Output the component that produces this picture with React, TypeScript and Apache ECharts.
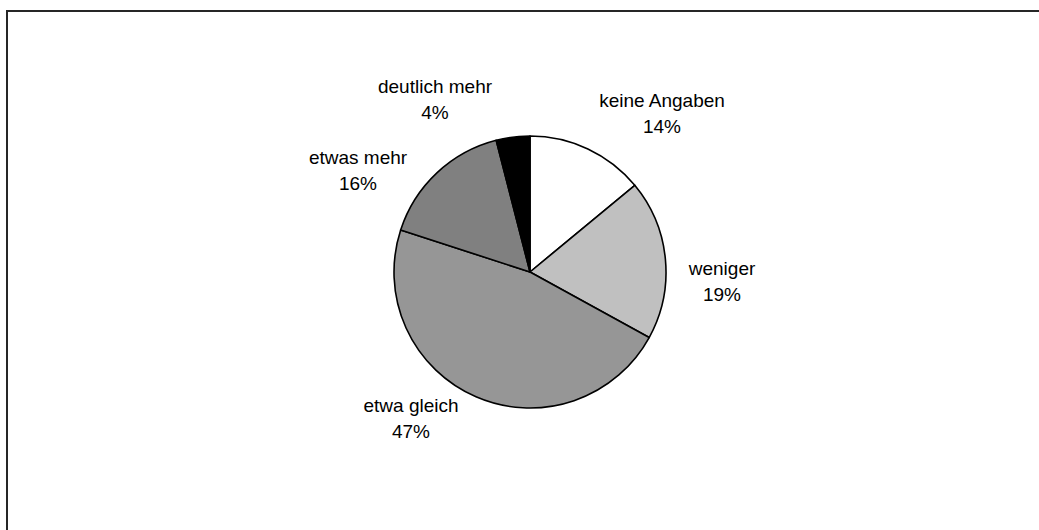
import React, { useEffect, useRef } from "react";
import * as echarts from "echarts";

const categories = ["keine Angaben", "weniger", "etwa gleich", "etwas mehr", "deutlich mehr"];
const values = [14, 19, 47, 16, 4];
const colors = ["#ffffff", "#c0c0c0", "#969696", "#808080", "#000000"];
// label block centres (layout only)
const labelPos: [number, number][] = [
  [662, 113],
  [722, 281],
  [411, 418],
  [358, 170],
  [435, 99],
];

export default function App() {
  const ref = useRef<HTMLDivElement>(null);
  useEffect(() => {
    if (!ref.current) return;
    const chart = echarts.init(ref.current, null, { renderer: "svg" });
    chart.setOption({
      animation: false,
      backgroundColor: "#ffffff",
      graphic: [
        {
          type: "rect",
          shape: { x: 7, y: 11, width: 1100, height: 600 },
          style: { fill: "none", stroke: "#262626", lineWidth: 2 },
          silent: true,
        },
      ],
      series: [
        {
          type: "pie",
          center: [530, 272],
          radius: 136,
          startAngle: 90,
          clockwise: true,
          avoidLabelOverlap: false,
          data: categories.map((name, i) => ({
            name,
            value: values[i],
            itemStyle: { color: colors[i] },
          })),
          itemStyle: { borderColor: "#000000", borderWidth: 1.6 },
          label: {
            show: true,
            position: "outside",
            formatter: "{b}\n{c}%",
            fontFamily: "Liberation Sans",
            fontSize: 19,
            lineHeight: 26,
            color: "#000000",
            align: "center",
          },
          labelLine: { show: false },
          labelLayout: (p: any) => ({
            x: labelPos[p.dataIndex][0],
            y: labelPos[p.dataIndex][1],
            align: "center",
            verticalAlign: "middle",
          }),
          emphasis: { disabled: true },
        },
      ],
    });
    return () => chart.dispose();
  }, []);
  return (
    <div
      ref={ref}
      style={{ position: "fixed", left: 0, top: 0, width: 1039, height: 530 }}
    />
  );
}
